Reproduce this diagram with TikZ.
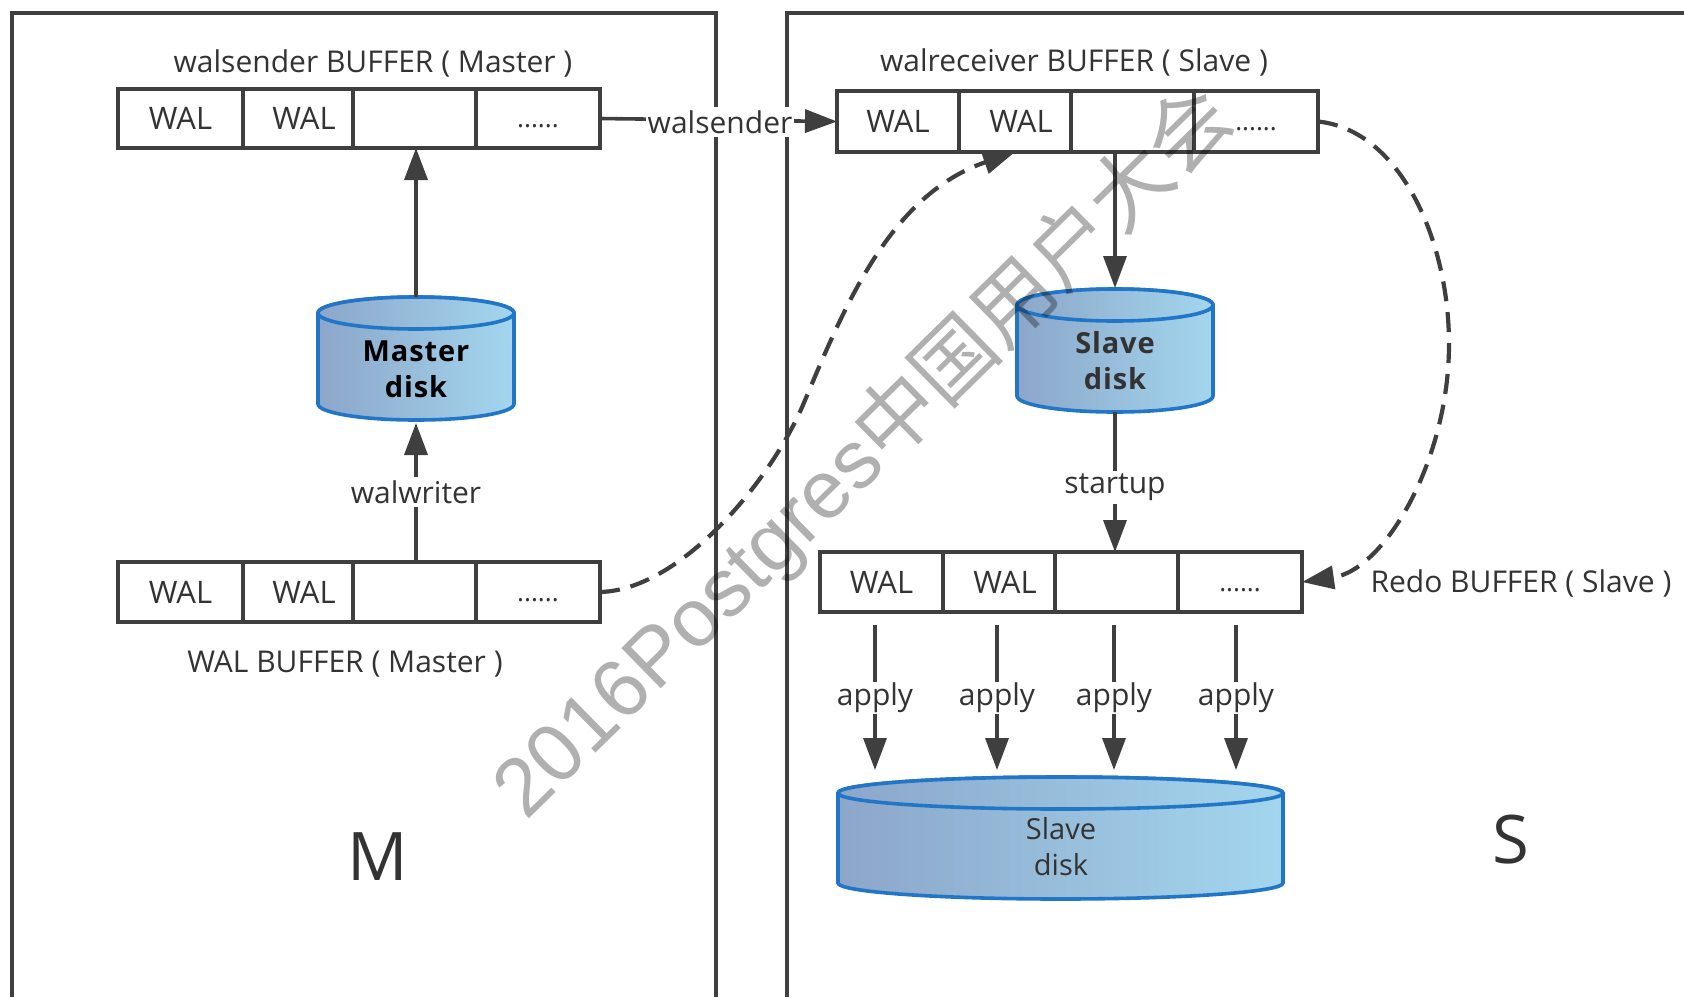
\documentclass[tikz,border=0pt]{standalone}
\usepackage{fontspec}
\setmainfont{Open Sans}
\newfontfamily\wmlatin{Liberation Sans}
\newfontfamily\wmcjk{Noto Sans CJK SC}
\usetikzlibrary{arrows.meta}
\definecolor{ink}{HTML}{333333}
\definecolor{linec}{HTML}{3F3F3F}
\definecolor{diskb}{HTML}{2176C7}
\definecolor{diskl}{HTML}{8CA6C9}
\definecolor{diskr}{HTML}{A3D6EE}
\tikzset{
  frameline/.style={draw=linec,line width=3.6pt,line join=miter},
  cellbox/.style={draw=linec,line width=3.6pt,inner sep=0pt,outer sep=0pt,anchor=north west,text=ink,font=\fontsize{31}{36}\selectfont},
  arrowline/.style={draw=linec,line width=3.6pt,-{Triangle[length=32pt,width=23pt]}},
  dashline/.style={arrowline,line width=4.2pt,dash pattern=on 20pt off 11pt},
  lbl/.style={text=ink,inner sep=0pt,font=\fontsize{30}{35}\selectfont},
  wlbl/.style={lbl,fill=white,inner ysep=3pt,inner xsep=1pt},
  big/.style={text=ink,inner sep=0pt,font=\fontsize{67}{75}\selectfont},
  disktxt/.style={text=ink,inner sep=0pt,align=center,font=\fontsize{29}{36}\selectfont},
  diskshade/.style={draw=diskb,line width=3.6pt,left color=diskl,right color=diskr,shading angle=90},
  anchorbox/.style={inner sep=0pt,outer sep=0pt,draw=none,fill=none}
}
% name, centre x, y of top ellipse centre, rx, ry, side height
\newcommand{\diskcyl}[6]{%
  \begin{scope}[shift={(#2,#3)},x=1pt,y=1pt]
    \path[diskshade,left color=diskl,right color=diskr] (-#4,0) -- (-#4,-#6) arc (180:360:#4 and #5) -- (#4,0) arc (0:180:#4 and #5) -- cycle;
    \path[diskshade,left color=diskl,right color=diskr] (0,0) ellipse (#4 and #5);
  \end{scope}
  \node[anchorbox,minimum width=2*#4 pt,minimum height=#6 pt+2*#5 pt] (#1) at (#2,#3+#6/2) {};
}
% prefix, x0, x1, x2, x3, x4, ytop, height
\newcommand{\bufrow}[8]{%
  \pgfmathsetmacro{\cwa}{#3-#2}\pgfmathsetmacro{\cwb}{#4-#3}\pgfmathsetmacro{\cwc}{#5-#4}\pgfmathsetmacro{\cwd}{#6-#5}
  \node[cellbox,minimum width=\cwa pt,minimum height=#8 pt] (#1a) at (#2,#7) {\raisebox{-2pt}{WAL}};
  \node[cellbox,minimum width=\cwb pt,minimum height=#8 pt] (#1b) at (#3,#7) {\hspace*{12pt}\raisebox{-2pt}{WAL}};
  \node[cellbox,minimum width=\cwc pt,minimum height=#8 pt] (#1c) at (#4,#7) {};
  \node[cellbox,minimum width=\cwd pt,minimum height=#8 pt,font=\fontsize{26}{30}\selectfont] (#1d) at (#5,#7) {\vphantom{WAL}......};
}
\begin{document}
\begin{tikzpicture}[x=1pt,y=-1pt]
\useasboundingbox (0,0) rectangle (1684,997);
% frames
\draw[frameline] (12,997) -- (12,13) -- (716,13) -- (716,997);
\draw[frameline] (787,997) -- (787,13) -- (1684,13);
% buffers
\bufrow{sb}{118}{243}{353}{476}{600}{89}{59}
\bufrow{wb}{118}{243}{353}{476}{600}{562}{60}
\bufrow{rb}{837}{959}{1071}{1194}{1318}{91}{61}
\bufrow{db}{820}{943}{1055}{1178}{1302}{552}{60}
% disks
\diskcyl{mdisk}{416}{313}{98}{16}{91}
\diskcyl{sdisk}{1115}{305}{98}{16}{91}
\diskcyl{bdisk}{1060.5}{793}{222.5}{16}{90}
\node[disktxt,text=black,font=\bfseries\fontsize{29}{36}\selectfont\addfontfeature{LetterSpace=3}] (mtxt) at (416,369) {Master\\disk};
\node[disktxt,font=\bfseries\fontsize{29}{36}\selectfont\addfontfeature{LetterSpace=3}] (stxt) at (1115,361) {Slave\\disk};
\node[disktxt] (btxt) at (1061,847) {Slave\\disk};
% titles
\node[lbl] (t1) at (373,63) {walsender BUFFER ( Master )};
\node[lbl] (t2) at (1074,62) {walreceiver BUFFER ( Slave )};
\node[lbl] (t3) at (345,664) {WAL BUFFER ( Master )};
\node[lbl] (t4) at (1521,583) {Redo BUFFER ( Slave )};
\node[big] (mm) at (378,857) {M};
\node[big] (ss) at (1511,840) {S};
% connectors
\draw[arrowline] (mdisk.north) -- (mdisk.north |- sbc.south);
\draw[arrowline] (wbc.north -| mdisk.south) -- ([yshift=-3pt]mdisk.south);
\node[wlbl] (lwriter) at (416,492) {walwriter};
\draw[arrowline] (sbd.east) -- (rba.west);
\node[wlbl,inner xsep=2pt] (lsender) at (720,122) {walsender};
\draw[arrowline] (rbc.south -| sdisk.north) -- ([yshift=1pt]sdisk.north);
\draw[arrowline] (sdisk.south) -- (dbc.north -| sdisk.south);
\node[wlbl] (lstart) at (1115,487) {startup};
\foreach \n/\x in {1/875,2/997,3/1114,4/1236}{
  \coordinate (as\n) at (\x,625);
  \coordinate (ae\n) at (\x,770);
  \draw[arrowline] (as\n) -- (ae\n);
  \node[wlbl,inner ysep=1pt] (lap\n) at (\x,698) {apply};
}
\draw[dashline] (wbd.east) .. controls (680,590) and (770,482) .. (803,405) .. controls (845,305) and (890,195) .. (rbb.south);
\draw[dashline] (rbd.east) .. controls (1400,130) and (1449,240) .. (1449,344) .. controls (1449,460) and (1385,570) .. (dbd.east);
% watermark
\node[rotate=44.5,text=black,text opacity=0.31,inner sep=0pt,font=\fontsize{82}{90}\selectfont] (wm) at (864,453) {\wmlatin 2016Postgres\wmcjk 中国用户大会};
\end{tikzpicture}
\end{document}
